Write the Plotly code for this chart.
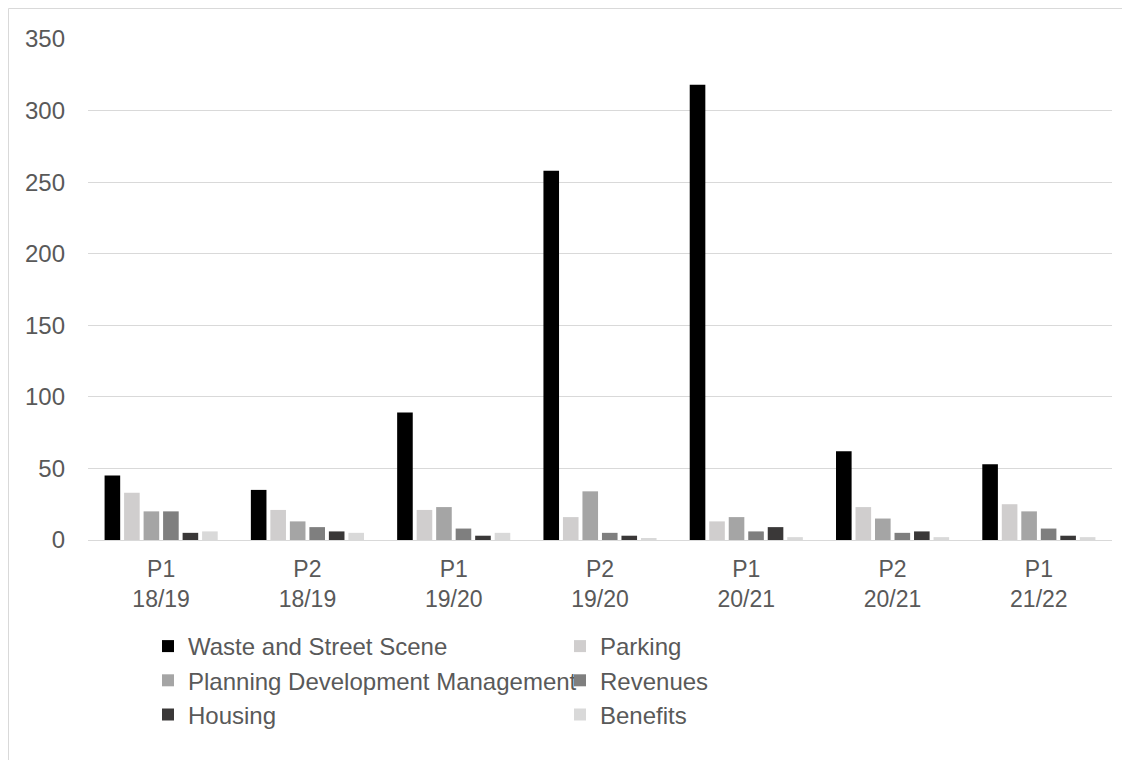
import plotly.graph_objects as go

categories = ["P1<br>18/19", "P2<br>18/19", "P1<br>19/20", "P2<br>19/20", "P1<br>20/21", "P2<br>20/21", "P1<br>21/22"]
waste = [45, 35, 89, 258, 318, 62, 53]
parking = [33, 21, 21, 16, 13, 23, 25]
planning = [20, 13, 23, 34, 16, 15, 20]
revenues = [20, 9, 8, 5, 6, 5, 8]
housing = [5, 6, 3, 3, 9, 6, 3]
benefits = [6, 5, 5, 1, 2, 2, 2]

series = [
    ("Waste and Street Scene", waste, "#000000"),
    ("Parking", parking, "#d0cece"),
    ("Planning Development Management", planning, "#a5a5a5"),
    ("Revenues", revenues, "#7f7f7f"),
    ("Housing", housing, "#3a3838"),
    ("Benefits", benefits, "#d9d9d9"),
]

W, H = 1130, 760
ml, mr, mt, mb = 80, 26, 31, 228
pw = W - ml - mr
ph = H - mt - mb

fig = go.Figure()
for name, vals, col in series:
    fig.add_trace(go.Bar(name=name, x=categories, y=vals, marker=dict(color=col, line=dict(width=0))))

fig.update_layout(
    width=W, height=H,
    margin=dict(l=ml, r=mr, t=mt, b=mb),
    plot_bgcolor="white", paper_bgcolor="white",
    barmode="group", bargap=0.2, bargroupgap=0.2,
    font=dict(family="Liberation Sans, Arial, sans-serif", size=24, color="#595959"),
    showlegend=True,
    legend=dict(orientation="h", x=(140 - ml) / pw, xanchor="left", y=-(616 - (mt + ph)) / ph, yanchor="top",
                entrywidth=367, entrywidthmode="pixels",
                font=dict(size=24, color="#595959"), tracegroupgap=0, itemsizing="constant"),
    xaxis=dict(showgrid=False, showline=True, linecolor="#d9d9d9", linewidth=1,
               ticks="", ticklabelstandoff=8, tickfont=dict(size=23, color="#595959")),
    yaxis=dict(range=[0, 350], dtick=50, showgrid=True, gridcolor="#d9d9d9", gridwidth=1,
               zeroline=False, showline=False, ticks="", ticklen=0, ticklabelstandoff=22,
               tickfont=dict(size=24, color="#595959")),
)

# chart border (left and top edges visible)
fig.add_shape(type="line", xref="paper", yref="paper",
              x0=(0.5 - ml) / pw, x1=(0.5 - ml) / pw, y0=-mb / ph, y1=(H - mb - 0.5) / ph,
              line=dict(color="#d9d9d9", width=1), layer="below")
fig.add_shape(type="line", xref="paper", yref="paper",
              x0=(0.5 - ml) / pw, x1=(W - ml) / pw, y0=(H - mb - 0.5) / ph, y1=(H - mb - 0.5) / ph,
              line=dict(color="#d9d9d9", width=1), layer="below")

fig.write_html("out.html")
